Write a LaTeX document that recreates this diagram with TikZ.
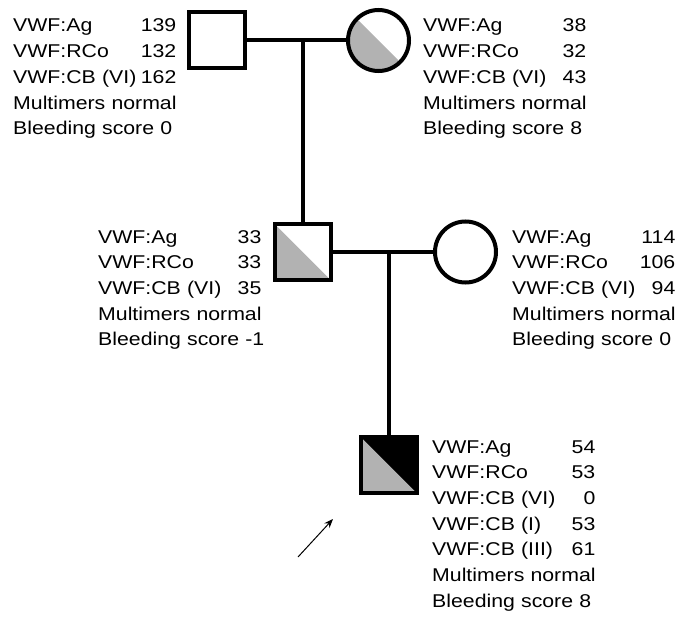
\documentclass[tikz,border=0pt]{standalone}
\usepackage{fontspec}
\setmainfont{Liberation Sans}[FakeStretch=1.15]
\usetikzlibrary{arrows.meta, positioning}

\definecolor{carrier}{gray}{0.70}
\newcommand{\infofont}{\fontsize{18.5pt}{25.7pt}\selectfont}
\newlength{\infow}
\AtBeginDocument{\settowidth{\infow}{\infofont Multimers normal}}
\newcommand{\val}[2]{\makebox[\infow][l]{#1\hfill #2}}

\begin{document}
\begin{tikzpicture}[
    x=1pt, y=-1pt,
    male/.style={draw, rectangle, minimum size=56pt, inner sep=0pt, line width=4pt},
    female/.style={draw, circle, minimum size=61pt, inner sep=0pt, line width=4pt},
    half/.style={path picture={
        \fill[carrier] (path picture bounding box.north west)
          -- (path picture bounding box.south west)
          -- (path picture bounding box.south east) -- cycle;}},
    affected/.style={fill=black, half},
    line/.style={line width=4pt},
    info/.style={anchor=base west, inner sep=0pt, align=left,
                 text width=\infow+30pt, font=\infofont},
  ]
  \useasboundingbox (0,0) rectangle (680,618);

  % pedigree symbols
  \node[male]         (gf) at (217,40.5) {};
  \node[female, half] (gm) at (378.5,40.5) {};
  \node[male, half]   (fa) at (302.5,252) {};
  \node[female]       (mo) at (465.5,252) {};
  \node[male, affected] (pb) at (388.5,465) {};

  % lines of descent
  \coordinate (gdrop) at (fa |- gf);
  \coordinate (pdrop) at (pb |- fa);
  \draw[line] (gf) -- (gm);
  \draw[line] (gdrop) -- (fa);
  \draw[line] (fa) -- (mo);
  \draw[line] (pdrop) -- (pb);

  % proband arrow
  \coordinate (ptail) at (298,557);
  \coordinate (phead) at (333,519);
  \draw[-{Stealth[length=9pt, width=7pt]}, line width=1pt] (ptail) -- (phead);

  % laboratory values
  \node[info] (gfinfo) at (13,32)
    {\val{VWF:Ag}{139}\\ \val{VWF:RCo}{132}\\ \val{VWF:CB (VI)}{162}\\
     Multimers normal\\ Bleeding score 0};
  \node[info] (gminfo) at (423,32)
    {\val{VWF:Ag}{38}\\ \val{VWF:RCo}{32}\\ \val{VWF:CB (VI)}{43}\\
     Multimers normal\\ Bleeding score 8};
  \node[info] (fainfo) at (98,243)
    {\val{VWF:Ag}{33}\\ \val{VWF:RCo}{33}\\ \val{VWF:CB (VI)}{35}\\
     Multimers normal\\ Bleeding score -1};
  \node[info] (moinfo) at (512,243)
    {\val{VWF:Ag}{114}\\ \val{VWF:RCo}{106}\\ \val{VWF:CB (VI)}{94}\\
     Multimers normal\\ Bleeding score 0};
  \node[info] (pbinfo) at (432,453)
    {\val{VWF:Ag}{54}\\ \val{VWF:RCo}{53}\\ \val{VWF:CB (VI)}{0}\\
     \val{VWF:CB (I)}{53}\\ \val{VWF:CB (III)}{61}\\
     Multimers normal\\ Bleeding score 8};
\end{tikzpicture}
\end{document}
